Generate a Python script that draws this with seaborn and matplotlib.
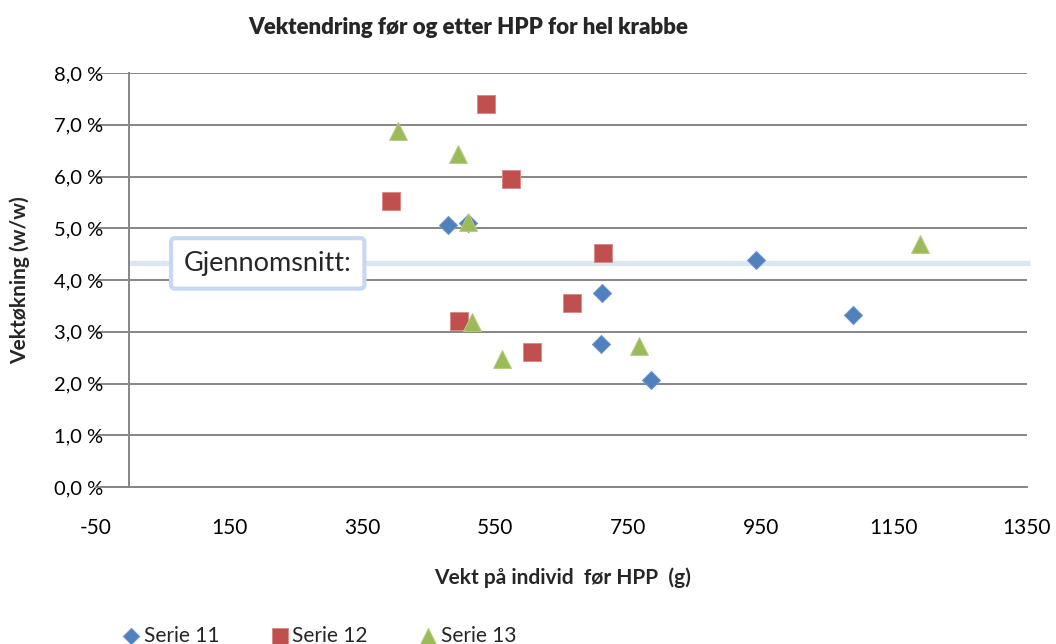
import numpy as np
import pandas as pd
import matplotlib
matplotlib.use("Agg")   # ingen skjerm: lagrer rett til fil
import matplotlib.pyplot as plt
from matplotlib.ticker import FuncFormatter
import seaborn as sns

# --- Data (vekt i g, vektøkning i %) ---
serie_navn = ["Serie 11", "Serie 12", "Serie 13"]

serie11_vekt = [480, 510, 711, 710, 785, 943, 1089]
serie11_okning = [5.06, 5.10, 3.75, 2.76, 2.07, 4.39, 3.32]

serie12_vekt = [393, 536, 574, 713, 666, 496, 606]
serie12_okning = [5.53, 7.40, 5.95, 4.53, 3.55, 3.21, 2.61]

serie13_vekt = [404, 495, 510, 515, 561, 766, 1189]
serie13_okning = [6.88, 6.43, 5.13, 3.18, 2.47, 2.72, 4.70]

x_ticks = [-50, 150, 350, 550, 750, 950, 1150, 1350]
y_ticks = [0, 1, 2, 3, 4, 5, 6, 7, 8]

farger = {"Serie 11": "#4F81BD", "Serie 12": "#C0504D", "Serie 13": "#9BBB59"}
kanter = {"Serie 11": "#6A95CC", "Serie 12": "#D98C8A", "Serie 13": "#B3CC85"}
markorer = {"Serie 11": "D", "Serie 12": "s", "Serie 13": "^"}
storrelser = {"Serie 11": 85, "Serie 12": 150, "Serie 13": 165}

df = pd.concat([
    pd.DataFrame({"serie": "Serie 11", "vekt": serie11_vekt, "okning": serie11_okning}),
    pd.DataFrame({"serie": "Serie 12", "vekt": serie12_vekt, "okning": serie12_okning}),
    pd.DataFrame({"serie": "Serie 13", "vekt": serie13_vekt, "okning": serie13_okning}),
], ignore_index=True)

# gjennomsnitt av alle målingene
snitt = df["okning"].mean()

sns.set_theme(style="white")
plt.rcParams["font.family"] = ["Lato", "DejaVu Sans"]
plt.rcParams["axes.unicode_minus"] = False   # vanlig bindestrek i "-50"

GRA = "#868686"

fig = plt.figure(figsize=(10.56, 6.44), dpi=100)
ax = fig.add_axes([96 / 1056, 1 - 487 / 644, (1027 - 96) / 1056, (487 - 73) / 644])

for navn in serie_navn:
    sns.scatterplot(data=df[df["serie"] == navn], x="vekt", y="okning",
                    marker=markorer[navn], s=storrelser[navn],
                    color=farger[navn], edgecolor=kanter[navn], linewidth=0.7,
                    label=navn, ax=ax, zorder=4)

ax.set_xlim(-50, 1350)
ax.set_ylim(0, 8)
ax.set_xticks(x_ticks)
ax.set_yticks(y_ticks)
ax.yaxis.set_major_formatter(FuncFormatter(lambda v, _: f"{v:.1f} %".replace(".", ",")))
ax.yaxis.grid(True, color=GRA, lw=1.4)
ax.set_axisbelow(True)

# Akser som i Excel: y-aksen krysser ved x = 0
for side in ["top", "right"]:
    ax.spines[side].set_visible(False)
ax.spines["left"].set_position(("data", 0))
for side in ["left", "bottom"]:
    ax.spines[side].set_color(GRA)
    ax.spines[side].set_linewidth(1.4)
ax.tick_params(axis="y", direction="out", length=5, width=1.4, color=GRA,
               pad=14, labelsize=14.5, labelcolor="black")
ax.tick_params(axis="x", direction="out", length=5.5, width=1.4, color=GRA,
               pad=17, labelsize=15, labelcolor="black")
ax.set_xlabel("")
ax.set_ylabel("")

# Gjennomsnittslinje med tekstboks
ax.hlines(snitt, 0, 1355, color="#DCE6F2", lw=3.8, clip_on=False, zorder=2)
ax.text(82, snitt, "Gjennomsnitt:", fontsize=19.5, va="center", ha="left", zorder=3,
        bbox=dict(boxstyle="round,pad=0.47,rounding_size=0.15",
                  fc="white", ec="#C6D9F1", lw=3))

fig.text(468 / 1056, 1 - 28 / 644, "Vektendring før og etter HPP for hel krabbe",
         ha="center", va="center", fontsize=16, fontweight="heavy")
fig.text(563 / 1056, 1 - 578 / 644, "Vekt på individ  før HPP  (g)",
         ha="center", va="center", fontsize=15, fontweight="bold")
fig.text(20 / 1056, 1 - 280 / 644, "Vektøkning (w/w)", rotation=90,
         ha="center", va="center", fontsize=15, fontweight="bold")

handles, labels = ax.get_legend_handles_labels()
ax.get_legend().remove()
fig.legend(handles, labels, loc="lower left", bbox_to_anchor=(102 / 1056, -0.032),
           ncol=3, frameon=False, fontsize=15, handletextpad=0.1,
           columnspacing=2.4, handlelength=1.0, markerscale=0.9)

plt.savefig("out.png", dpi=100)
plt.close()
